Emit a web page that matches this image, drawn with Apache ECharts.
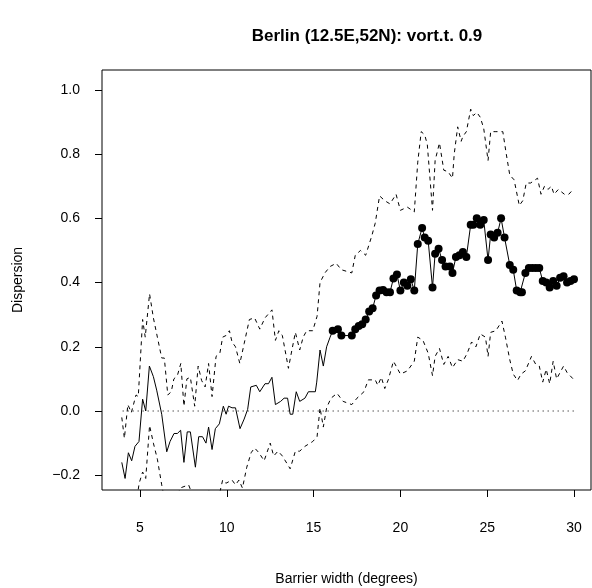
<!DOCTYPE html><html><head><meta charset="utf-8"><script src="https://cdn.jsdelivr.net/npm/echarts@6/dist/echarts.min.js"></script></head><body style="margin:0"><div id="c" style="width:592px;height:588px"></div><script>
const xMean=[3.95,4.14,4.33,4.52,4.71,4.94,5.15,5.33,5.54,5.77,5.96,6.25,6.54,6.73,6.96,7.15,7.34,7.53,7.72,7.9,8.19,8.38,8.6,8.8,8.95,9.15,9.34,9.57,9.8,9.96,10.1,10.3,10.5,10.76,11,11.2,11.38,11.7,11.9,12.2,12.4,12.6,12.8,13.1,13.3,13.5,13.65,13.8,14,14.2,14.5,14.7,15.1,15.18,15.37,15.56,15.75,15.95,16.1,16.4,16.6,17.2,17.4,17.6,17.8,18,18.2,18.4,18.6,18.8,19,19.2,19.4,19.6,19.8,20,20.2,20.4,20.6,20.8,21,21.25,21.4,21.6,21.85,22,22.2,22.4,22.6,22.85,23,23.2,23.4,23.6,23.8,24.05,24.2,24.4,24.6,24.8,25.05,25.2,25.4,25.6,25.8,26,26.3,26.5,26.7,26.9,27,27.2,27.4,27.6,27.8,28,28.2,28.4,28.6,28.8,29,29.2,29.4,29.6,29.8,30];
const yMean=[-0.16,-0.21,-0.13,-0.155,-0.11,-0.095,0.037,0,0.14,0.107,0.065,-0.01,-0.127,-0.095,-0.07,-0.07,-0.06,-0.16,-0.065,-0.065,-0.175,-0.08,-0.08,-0.1,-0.05,-0.12,-0.055,-0.04,0.015,-0.01,0.015,0.01,0.01,-0.055,-0.025,0.005,0.075,0.08,0.06,0.085,0.085,0.105,0.02,0.03,0.04,0.04,-0.01,-0.01,0.06,0.03,0.04,0.06,0.06,0.09,0.19,0.14,0.2,0.23,0.25,0.255,0.235,0.235,0.255,0.265,0.27,0.285,0.31,0.32,0.36,0.375,0.377,0.37,0.37,0.413,0.425,0.375,0.4,0.39,0.41,0.375,0.52,0.57,0.54,0.53,0.385,0.49,0.505,0.47,0.45,0.45,0.43,0.48,0.485,0.495,0.48,0.58,0.58,0.6,0.58,0.595,0.47,0.55,0.54,0.555,0.6,0.54,0.455,0.44,0.375,0.37,0.37,0.43,0.445,0.445,0.445,0.445,0.405,0.4,0.385,0.405,0.39,0.415,0.42,0.4,0.405,0.41];
const xUp=[3.95,4.1,4.3,4.5,4.77,4.9,5.15,5.3,5.55,5.77,6,6.25,6.4,6.6,6.8,6.95,7.15,7.35,7.53,7.7,7.9,8.15,8.35,8.55,8.75,8.95,9.15,9.38,9.6,9.76,9.95,10.15,10.3,10.5,10.75,11,11.3,11.6,11.9,12.2,12.6,12.8,13,13.2,13.55,13.75,13.95,14.2,14.4,14.6,14.95,15.2,15.37,15.65,15.95,16.3,16.6,17.2,17.4,17.7,18,18.35,18.55,18.8,19.1,19.4,19.75,20,20.4,20.8,21,21.2,21.4,21.55,21.85,22,22.25,22.5,22.75,23,23.1,23.3,23.5,23.6,23.8,24.05,24.2,24.4,24.6,24.8,25.05,25.2,25.5,25.9,26.1,26.3,26.55,26.85,27.05,27.25,27.5,27.9,28.1,28.3,28.5,28.7,28.85,29.1,29.45,29.7,29.95];
const yUp=[-0.02,-0.085,0.02,-0.005,0.05,0.045,0.285,0.23,0.365,0.29,0.23,0.165,0.165,0.05,0.06,0.1,0.11,0.148,0.015,0.1,0.105,0.015,0.14,0.095,0.075,0.148,0.045,0.17,0.18,0.23,0.235,0.25,0.215,0.2,0.148,0.21,0.285,0.29,0.255,0.29,0.315,0.22,0.25,0.235,0.133,0.19,0.245,0.19,0.23,0.25,0.25,0.295,0.4,0.43,0.45,0.46,0.44,0.43,0.485,0.5,0.485,0.545,0.585,0.67,0.655,0.645,0.675,0.625,0.635,0.62,0.775,0.87,0.86,0.83,0.625,0.78,0.835,0.75,0.745,0.725,0.8,0.885,0.84,0.855,0.87,0.94,0.92,0.93,0.915,0.88,0.78,0.87,0.87,0.87,0.8,0.735,0.72,0.64,0.655,0.71,0.71,0.725,0.675,0.7,0.69,0.7,0.675,0.69,0.675,0.675,0.69];
const xLo=[3.95,4.2,4.5,4.75,4.95,5.15,5.33,5.55,5.77,6,6.25,6.5,7,7.3,7.8,8.3,9,9.4,9.76,9.95,10.3,10.5,10.7,10.9,11.15,11.4,11.6,11.85,12.15,12.5,12.7,12.95,13.2,13.65,13.95,14.2,14.5,14.95,15.2,15.37,15.56,15.75,16,16.35,16.7,17.2,17.5,17.9,18.15,18.55,18.7,18.9,19.1,19.3,19.6,19.8,20,20.4,20.8,21,21.3,21.6,21.85,22,22.25,22.5,22.75,23,23.3,23.6,23.85,24.1,24.35,24.6,24.9,25.05,25.2,25.5,25.85,26.05,26.3,26.5,26.75,26.95,27.2,27.55,27.8,28,28.2,28.4,28.6,28.8,29,29.2,29.4,29.6,29.95];
const yLo=[-0.3,-0.3,-0.3,-0.3,-0.225,-0.19,-0.21,-0.045,-0.1,-0.15,-0.23,-0.3,-0.3,-0.24,-0.23,-0.3,-0.245,-0.3,-0.215,-0.225,-0.215,-0.23,-0.215,-0.24,-0.175,-0.13,-0.115,-0.13,-0.155,-0.1,-0.14,-0.125,-0.14,-0.18,-0.125,-0.125,-0.11,-0.095,-0.08,0.01,-0.05,0.01,0.04,0.055,0.03,0.02,0.04,0.06,0.097,0.097,0.08,0.105,0.07,0.097,0.155,0.135,0.115,0.125,0.155,0.23,0.22,0.18,0.11,0.17,0.195,0.145,0.17,0.135,0.16,0.155,0.18,0.215,0.2,0.24,0.23,0.17,0.245,0.25,0.28,0.23,0.16,0.115,0.095,0.115,0.125,0.17,0.145,0.14,0.09,0.13,0.085,0.155,0.1,0.12,0.14,0.12,0.1];
const xTicks=[5,10,15,20,25,30];
const yTicks=[-0.2,0,0.2,0.4,0.6,0.8,1.0];
const dotStart=16;
const z=(a,b)=>a.map((v,i)=>[v,b[i]]);
const meanPts=z(xMean,yMean);
const f='Liberation Sans, Arial, sans-serif';
const c=echarts.init(document.getElementById('c'));
c.setOption({animation:false,
title:{text:'Berlin (12.5E,52N): vort.t. 0.9',left:362,top:23,textAlign:'center',textStyle:{fontFamily:f,fontSize:17,fontWeight:'bold',color:'#000'}},
grid:{left:102,right:1,top:70,bottom:98,outerBoundsMode:'none',containLabel:false,show:true,borderColor:'#000',borderWidth:1},
xAxis:{type:'value',min:2.81,max:30.98,name:'Barrier width (degrees)',nameLocation:'middle',nameGap:82,nameTextStyle:{fontFamily:f,fontSize:14,color:'#000'},
axisLine:{show:false,onZero:false},splitLine:{show:false},axisTick:{show:true,length:7,inside:false,customValues:xTicks,lineStyle:{color:'#000'}},
axisLabel:{customValues:xTicks,fontFamily:f,fontSize:14,color:'#000',margin:31}},
yAxis:{type:'value',min:-0.246,max:1.062,name:'Dispersion',nameLocation:'middle',nameGap:77,nameTextStyle:{fontFamily:f,fontSize:14,color:'#000'},
axisLine:{show:false,onZero:false},splitLine:{show:false},axisTick:{show:true,length:7,customValues:yTicks,lineStyle:{color:'#000'}},
axisLabel:{customValues:yTicks,fontFamily:f,fontSize:14,color:'#000',margin:22,formatter:v=>v.toFixed(1).replace('-','\u2212')}},
series:[
{type:'line',data:[[4,0],[30,0]],symbol:'none',lineStyle:{color:'#000',width:1,type:[1,4]},silent:true},
{type:'line',data:z(xUp,yUp),symbol:'none',lineStyle:{color:'#000',width:1,type:[4,4]}},
{type:'line',data:z(xLo,yLo),symbol:'none',lineStyle:{color:'#000',width:1,type:[4,4]}},
{type:'line',data:meanPts,symbol:'none',lineStyle:{color:'#000',width:1}},
{type:'scatter',data:meanPts.filter(p=>p[0]>dotStart),symbolSize:8,itemStyle:{color:'#000',opacity:1}}
]});
</script></body></html>
